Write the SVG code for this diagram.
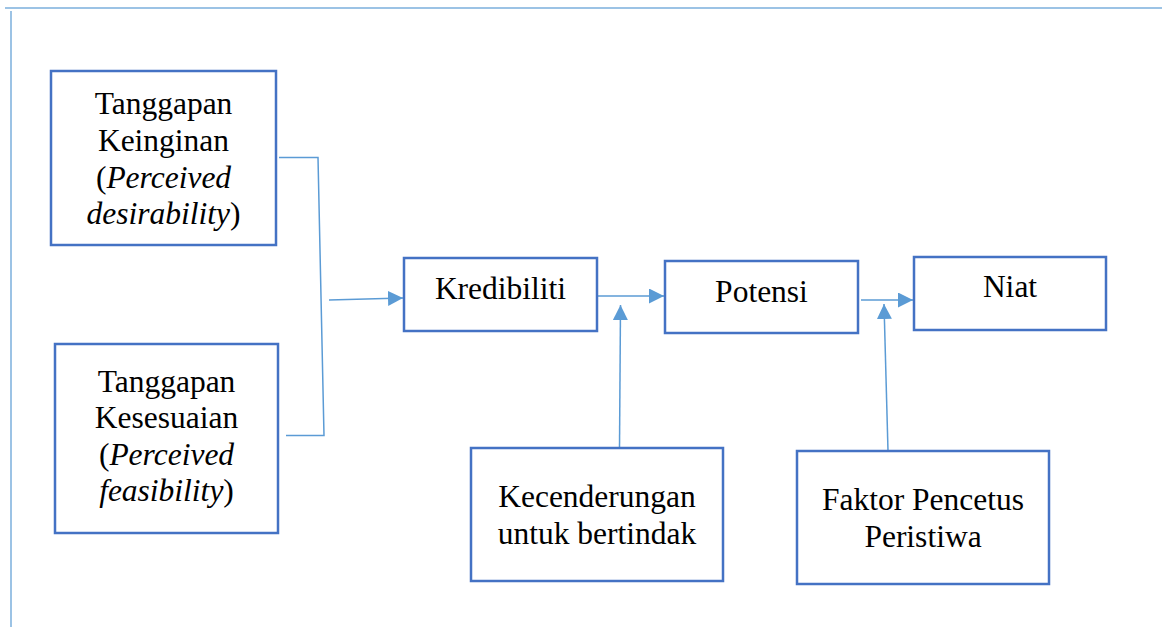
<svg xmlns="http://www.w3.org/2000/svg" width="1162" height="627" viewBox="0 0 1162 627">
<defs>
<style>
.box{fill:#fff;stroke:#4472C4;stroke-width:2.5}
.t{font-size:31.5px;fill:#000;text-anchor:middle}
.c{fill:none;stroke:#5B9BD5;stroke-width:1.5}
.frame{fill:none;stroke:#5B9BD5;stroke-width:1.5;opacity:0.8}
</style>
<marker id="ah" viewBox="0 0 10 10" refX="10" refY="5" markerWidth="15" markerHeight="15" markerUnits="userSpaceOnUse" orient="auto">
<path d="M0,0 L10,5 L0,10 Z" fill="#5B9BD5"/>
</marker>
</defs>
<rect width="1162" height="627" fill="#fff"/>
<g id="frame">
<line class="frame" x1="5" y1="8" x2="1162" y2="8"/>
<line class="frame" x1="11" y1="11" x2="11" y2="627"/>
</g>
<g id="connectors">
<polyline class="c" points="279,157.5 318,157.5 324,435.5 286,435.5"/>
<line class="c" x1="329" y1="300" x2="403" y2="298" marker-end="url(#ah)"/>
<line class="c" x1="598" y1="296" x2="664" y2="296" marker-end="url(#ah)"/>
<line class="c" x1="619.5" y1="448" x2="620.5" y2="305" marker-end="url(#ah)"/>
<line class="c" x1="861" y1="300" x2="913" y2="300" marker-end="url(#ah)"/>
<line class="c" x1="888" y1="451" x2="884" y2="304" marker-end="url(#ah)"/>
</g>
<g font-family="'Liberation Serif', 'Times New Roman', Times, serif">
<g id="node-keinginan">
<rect class="box" x="51" y="71" width="225" height="174"/>
<text class="t" x="163.5" y="114">Tanggapan</text>
<text class="t" x="163.5" y="151">Keinginan</text>
<text class="t" x="163.5" y="188">(<tspan font-style="italic">Perceived</tspan></text>
<text class="t" x="163.5" y="224"><tspan font-style="italic">desirability</tspan>)</text>
</g>
<g id="node-kesesuaian">
<rect class="box" x="55" y="344" width="223" height="189"/>
<text class="t" x="166.5" y="392">Tanggapan</text>
<text class="t" x="166.5" y="428">Kesesuaian</text>
<text class="t" x="166.5" y="465">(<tspan font-style="italic">Perceived</tspan></text>
<text class="t" x="166.5" y="501"><tspan font-style="italic">feasibility</tspan>)</text>
</g>
<g id="node-kredibiliti">
<rect class="box" x="404" y="258" width="193" height="73"/>
<text class="t" x="500.5" y="299">Kredibiliti</text>
</g>
<g id="node-potensi">
<rect class="box" x="665" y="261" width="193" height="72"/>
<text class="t" x="761.5" y="302">Potensi</text>
</g>
<g id="node-niat">
<rect class="box" x="914" y="257" width="192" height="73"/>
<text class="t" x="1010" y="297">Niat</text>
</g>
<g id="node-kecenderungan">
<rect class="box" x="471" y="448" width="252" height="133"/>
<text class="t" x="597" y="507">Kecenderungan</text>
<text class="t" x="597" y="544">untuk bertindak</text>
</g>
<g id="node-faktor">
<rect class="box" x="797" y="451" width="252" height="133"/>
<text class="t" x="923" y="510">Faktor Pencetus</text>
<text class="t" x="923" y="547">Peristiwa</text>
</g>
</g>
</svg>
